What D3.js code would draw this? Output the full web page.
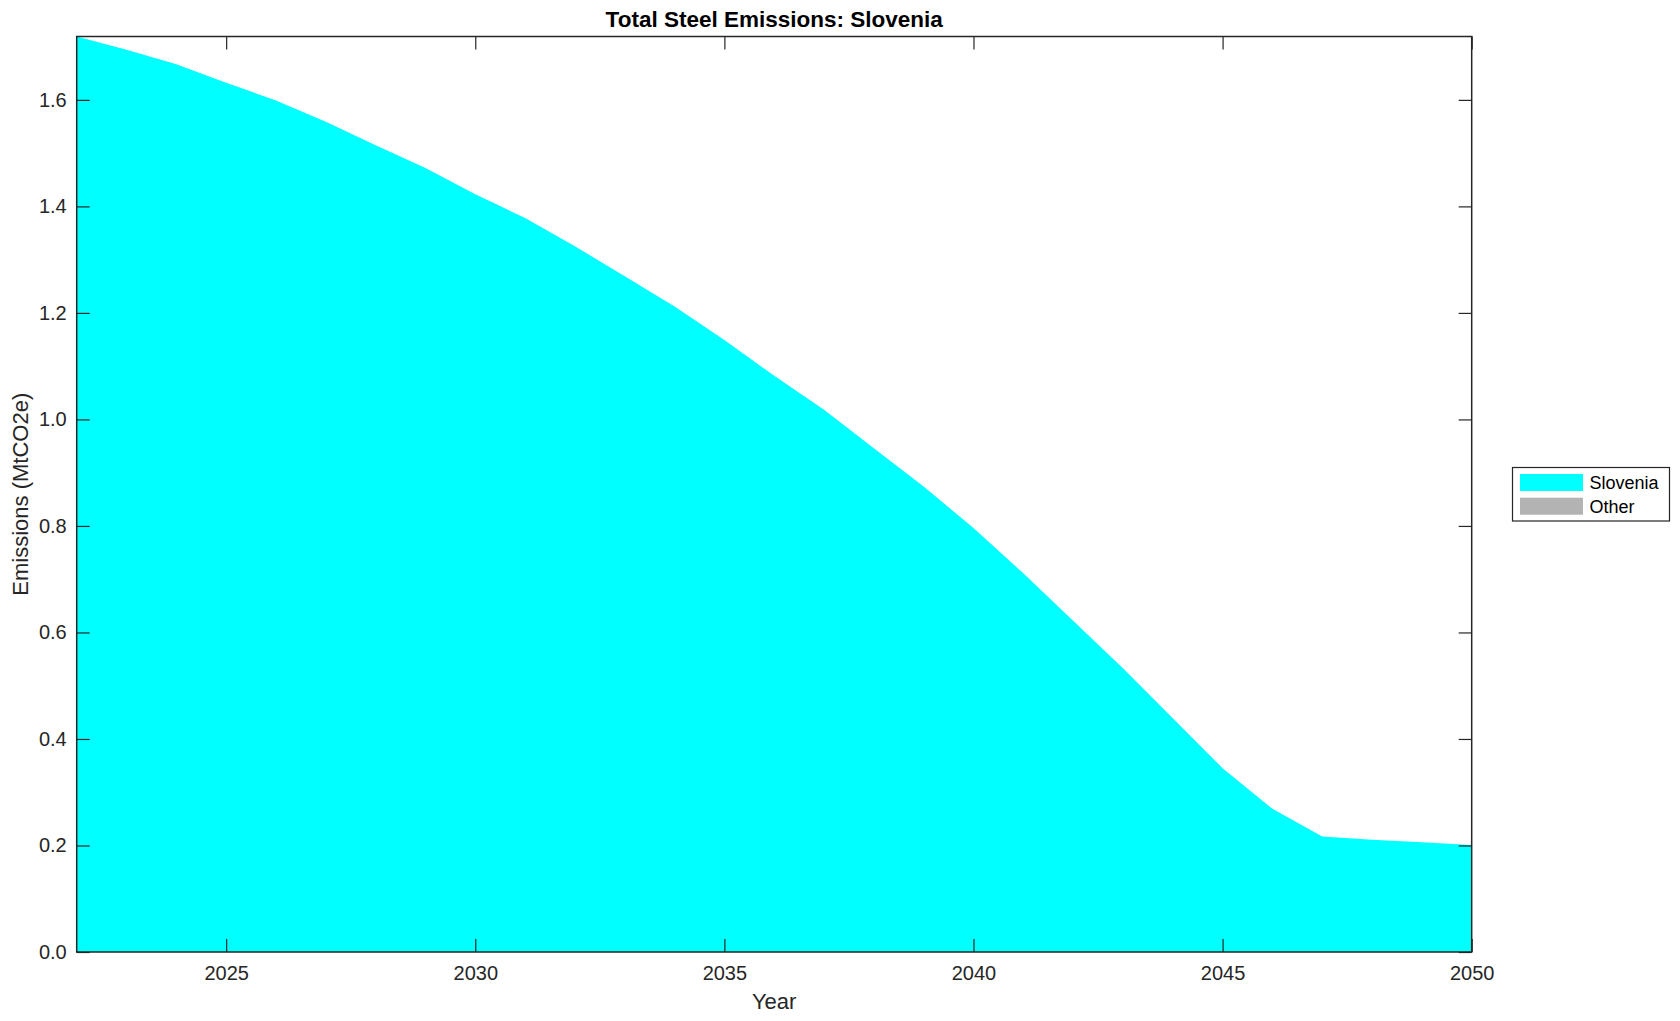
<!DOCTYPE html>
<html>
<head>
<meta charset="utf-8">
<script src="https://cdn.jsdelivr.net/npm/d3@7"></script>
<style>
  body { margin: 0; background: #fff; }
  svg { display: block; font-family: "Liberation Sans", Arial, Helvetica, sans-serif; }
</style>
</head>
<body>
<svg id="chart" width="1680" height="1021"></svg>
<script>
// data
var years = [2022, 2023, 2024, 2025, 2026, 2027, 2028, 2029, 2030, 2031, 2032, 2033, 2034, 2035,
  2036, 2037, 2038, 2039, 2040, 2041, 2042, 2043, 2044, 2045, 2046, 2047, 2048, 2049, 2050];
var slovenia = [1.719, 1.694, 1.667, 1.632, 1.599, 1.559, 1.515, 1.472, 1.423, 1.378, 1.325, 1.269,
  1.212, 1.149, 1.082, 1.018, 0.946, 0.874, 0.796, 0.711, 0.622, 0.533, 0.439, 0.345, 0.269,
  0.217, 0.211, 0.206, 0.201];
var other = years.map(function () { return 0; });
var xTicks = [2025, 2030, 2035, 2040, 2045, 2050];
var yTicks = [0, 0.2, 0.4, 0.6, 0.8, 1.0, 1.2, 1.4, 1.6];
var seriesNames = ["Slovenia", "Other"];
var seriesColors = ["#00ffff", "#b3b3b3"];

var svg = d3.select("#chart");
var axisColor = "#262626";
var plot = { left: 76.7, right: 1471.7, top: 36.5, bottom: 952 };

var x = d3.scaleLinear().domain([2022, 2050]).range([plot.left, plot.right]);
var y = d3.scaleLinear().domain([0, 1.719]).range([plot.bottom, plot.top]);

// stacked areas
var table = years.map(function (yr, i) {
  return { year: yr, Slovenia: slovenia[i], Other: other[i] };
});
var stack = d3.stack().keys(seriesNames);
var layers = stack(table);

var area = d3.area()
  .x(function (d) { return x(d.data.year); })
  .y0(function (d) { return y(d[0]); })
  .y1(function (d) { return y(d[1]); });

svg.append("g")
  .selectAll("path")
  .data(layers)
  .enter()
  .append("path")
  .attr("d", area)
  .attr("fill", function (d, i) { return seriesColors[i]; })
  .attr("stroke", "none");

// axes (ticks inside, box all round)
var tickLen = 13;
var gx = svg.append("g")
  .attr("transform", "translate(0," + plot.bottom + ")")
  .call(d3.axisBottom(x).tickValues(xTicks).tickFormat(d3.format("d")).tickSizeInner(-tickLen).tickSizeOuter(0).tickPadding(14));
var gxTop = svg.append("g")
  .attr("transform", "translate(0," + plot.top + ")")
  .call(d3.axisTop(x).tickValues(xTicks).tickFormat("").tickSizeInner(-tickLen).tickSizeOuter(0));
var gy = svg.append("g")
  .attr("transform", "translate(" + plot.left + ",0)")
  .call(d3.axisLeft(y).tickValues(yTicks).tickFormat(d3.format(".1f")).tickSizeInner(-tickLen).tickSizeOuter(0).tickPadding(10));
var gyRight = svg.append("g")
  .attr("transform", "translate(" + plot.right + ",0)")
  .call(d3.axisRight(y).tickValues(yTicks).tickFormat("").tickSizeInner(-tickLen).tickSizeOuter(0));

[gx, gxTop, gy, gyRight].forEach(function (g) {
  g.select(".domain").remove();
  g.selectAll(".tick line").attr("stroke", axisColor).attr("stroke-width", 1.2);
  g.selectAll(".tick text")
    .attr("fill", axisColor)
    .style("font-size", "20px")
    .style("font-family", "'Liberation Sans', Arial, sans-serif");
});

svg.append("rect")
  .attr("x", plot.left)
  .attr("y", plot.top)
  .attr("width", plot.right - plot.left)
  .attr("height", plot.bottom - plot.top)
  .attr("fill", "none")
  .attr("stroke", axisColor)
  .attr("stroke-width", 1.5);

// title and labels
svg.append("text")
  .attr("x", (plot.left + plot.right) / 2)
  .attr("y", 27)
  .attr("text-anchor", "middle")
  .style("font-size", "22.5px")
  .style("font-weight", "bold")
  .attr("fill", "#000")
  .text("Total Steel Emissions: Slovenia");

svg.append("text")
  .attr("x", (plot.left + plot.right) / 2)
  .attr("y", 1009)
  .attr("text-anchor", "middle")
  .style("font-size", "22px")
  .attr("fill", axisColor)
  .text("Year");

svg.append("text")
  .attr("transform", "rotate(-90)")
  .attr("x", -(plot.top + plot.bottom) / 2)
  .attr("y", 28)
  .attr("text-anchor", "middle")
  .style("font-size", "22px")
  .attr("fill", axisColor)
  .text("Emissions (MtCO2e)");

// legend
var legend = svg.append("g").attr("transform", "translate(1512.5,467.5)");
legend.append("rect")
  .attr("width", 157)
  .attr("height", 53.5)
  .attr("fill", "#fff")
  .attr("stroke", axisColor)
  .attr("stroke-width", 1.2);
var items = legend.selectAll("g.item")
  .data(seriesNames)
  .enter()
  .append("g")
  .attr("class", "item")
  .attr("transform", function (d, i) { return "translate(0," + (6.5 + i * 23.7) + ")"; });
items.append("rect")
  .attr("x", 7.5)
  .attr("width", 63)
  .attr("height", 17)
  .attr("fill", function (d, i) { return seriesColors[i]; });
items.append("text")
  .attr("x", 77)
  .attr("y", 8.5)
  .attr("dy", "0.36em")
  .style("font-size", "18px")
  .attr("fill", "#000")
  .text(function (d) { return d; });
</script>
</body>
</html>
